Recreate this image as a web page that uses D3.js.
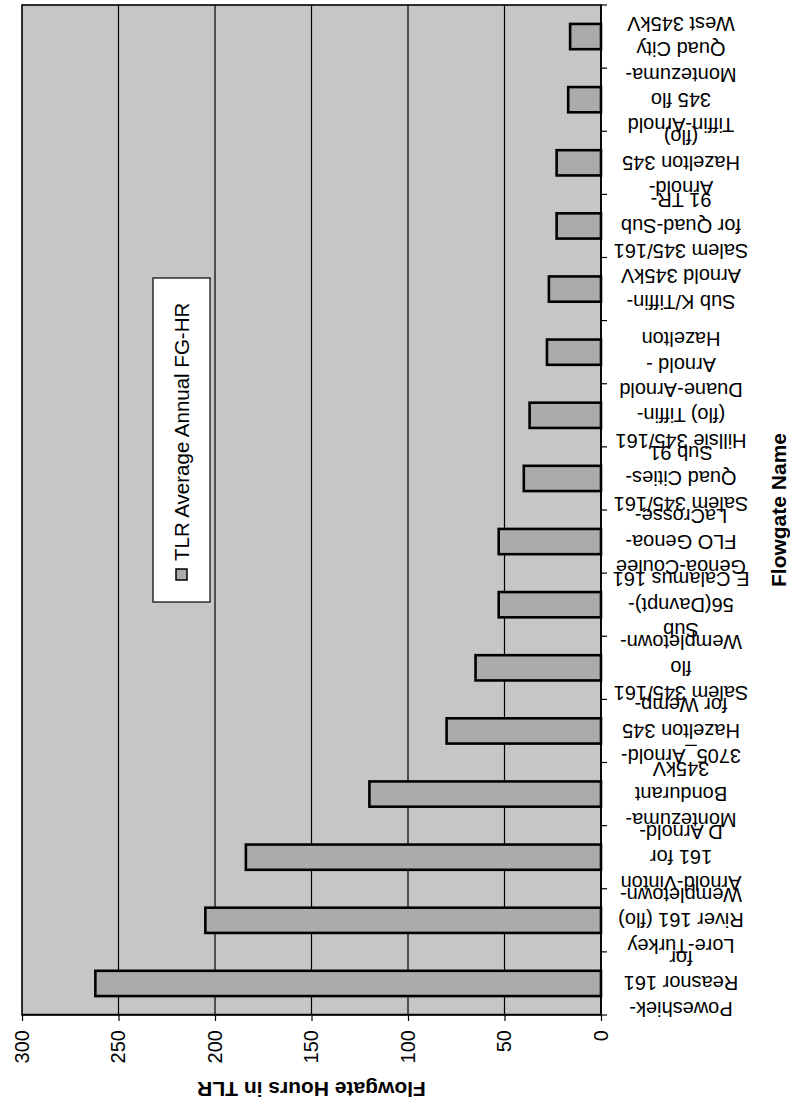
<!DOCTYPE html>
<html>
<head>
<meta charset="utf-8">
<script src="https://cdn.jsdelivr.net/npm/d3@7"></script>
<style>
  html, body { margin: 0; padding: 0; background: #ffffff; }
  svg { display: block; }
  text { font-family: Arial, "Liberation Sans", sans-serif; fill: #000; }
</style>
</head>
<body>
<svg id="chart" width="790" height="1104"></svg>
<script>
// Flowgate names, wrapped into the lines shown under each bar
const flowgateLabels = [
  ["Poweshiek-", "Reasnor 161", "for"],
  ["Lore-Turkey", "River 161 (flo)", "Wempletown-"],
  ["Arnold-Vinton", "161 for", "D Arnold-"],
  ["Montezuma-", "Bondurant", "345kV"],
  ["3705_Arnold-", "Hazelton 345", "for Wemp-"],
  ["Salem 345/161", "flo", "Wempletown-"],
  ["Sub", "56(Davnpt)-", "E Calamus 161"],
  ["Genoa-Coulee", "FLO Genoa-", "LaCrosse-"],
  ["Salem 345/161", "Quad Cities-", "Sub 91"],
  ["Hillsie 345/161", "(flo) Tiffin-", "Duane-Arnold"],
  ["Arnold -", "Hazelton"],
  ["Sub K/Tiffin-", "Arnold 345kV"],
  ["Salem 345/161", "for Quad-Sub", "91 TR-"],
  ["Arnold-", "Hazelton 345", "(flo)"],
  ["Tiffin-Arnold", "345 flo", ""],
  ["Montezuma-", "Quad City", "West 345kV", ""]
];

// Average annual flowgate hours in TLR
const tlrHours = [262, 205, 184, 120, 80, 65, 53, 53, 40, 37, 28, 27, 23, 23, 17, 16];

const hourTicks = [0, 50, 100, 150, 200, 250, 300];
const seriesName = "TLR Average Annual FG-HR";
const valueTitle = "Flowgate Hours in TLR";
const categoryTitle = "Flowgate Name";

// The chart is laid out landscape (W x H) and turned a quarter turn onto the portrait page
const W = 1104, H = 790;
const svg = d3.select("#chart");
const g = svg.append("g").attr("transform", `translate(0,${W}) rotate(-90)`);

const plotLeft = 89, plotRight = 1099, plotTop = 22, plotBottom = 601;
const ids = d3.range(flowgateLabels.length);

const slot = d3.scaleBand().domain(ids).range([plotLeft, plotRight]).padding(0);
const barFrac = 0.4;
const y = d3.scaleLinear().domain([0, 300]).range([plotBottom, plotTop]);

const plotFill = "#c6c6c6";
const barFill = "#ababab";

// plot area
g.append("rect")
  .attr("x", plotLeft).attr("y", plotTop)
  .attr("width", plotRight - plotLeft).attr("height", plotBottom - plotTop)
  .attr("fill", plotFill);

// gridlines
g.append("g").selectAll("line")
  .data(hourTicks.filter(v => v > 0 && v < 300))
  .join("line")
  .attr("x1", plotLeft).attr("x2", plotRight)
  .attr("y1", d => y(d)).attr("y2", d => y(d))
  .attr("stroke", "#000").attr("stroke-width", 1.2);

// bars
g.append("g").selectAll("rect")
  .data(tlrHours)
  .join("rect")
  .attr("x", (d, i) => slot(i) + slot.bandwidth() * (1 - barFrac) / 2)
  .attr("width", slot.bandwidth() * barFrac)
  .attr("y", d => y(d))
  .attr("height", d => y(0) - y(d))
  .attr("fill", barFill)
  .attr("stroke", "#000")
  .attr("stroke-width", 2.6);

// plot border
g.append("rect")
  .attr("x", plotLeft).attr("y", plotTop)
  .attr("width", plotRight - plotLeft).attr("height", plotBottom - plotTop)
  .attr("fill", "none").attr("stroke", "#000").attr("stroke-width", 1.6);

// value axis
const valueAxis = g.append("g")
  .attr("transform", `translate(${plotLeft},0)`)
  .call(d3.axisLeft(y).tickValues(hourTicks).tickSize(6).tickPadding(9).tickSizeOuter(0));
valueAxis.select(".domain").attr("stroke", "#000").attr("stroke-width", 1.6);
valueAxis.selectAll(".tick line").attr("stroke", "#000").attr("stroke-width", 1.2);
valueAxis.selectAll(".tick text")
  .attr("font-size", 20).attr("font-family", "Arial, 'Liberation Sans', sans-serif").attr("fill", "#000");

// category axis line and ticks between categories
const catAxis = g.append("g");
catAxis.append("line")
  .attr("x1", plotLeft).attr("x2", plotRight)
  .attr("y1", plotBottom).attr("y2", plotBottom)
  .attr("stroke", "#000").attr("stroke-width", 1.6);
const bounds = ids.map(i => slot(i)).concat([slot.range()[1]]);
catAxis.selectAll("line.tick")
  .data(bounds)
  .join("line")
  .attr("class", "tick")
  .attr("x1", d => d).attr("x2", d => d)
  .attr("y1", plotBottom).attr("y2", plotBottom + 6)
  .attr("stroke", "#000").attr("stroke-width", 1.2);

// category labels, written upward and centred under each bar
const lineStep = 25.5;
const labelMid = 681;
const labelGroups = g.append("g").selectAll("g")
  .data(flowgateLabels)
  .join("g")
  .attr("transform", (d, i) => `translate(${slot(i) + slot.bandwidth() / 2},${labelMid}) rotate(-90)`);
labelGroups.each(function(lines) {
  const t = d3.select(this).append("text")
    .attr("text-anchor", "middle")
    .attr("font-size", 20);
  lines.forEach((ln, j) => {
    t.append("tspan")
      .attr("x", 0)
      .attr("y", (j - (lines.length - 1) / 2) * lineStep + 7)
      .text(ln);
  });
});

// axis titles
g.append("text")
  .attr("x", (plotLeft + plotRight) / 2)
  .attr("y", 786)
  .attr("text-anchor", "middle")
  .attr("font-size", 21)
  .attr("font-weight", "bold")
  .text(categoryTitle);

g.append("text")
  .attr("transform", `translate(22,${(plotTop + plotBottom) / 2}) rotate(-90)`)
  .attr("text-anchor", "middle")
  .attr("font-size", 21)
  .attr("font-weight", "bold")
  .text(valueTitle);

// legend
const legend = g.append("g").attr("transform", "translate(502,153)");
legend.append("rect")
  .attr("width", 324).attr("height", 57)
  .attr("fill", "#ffffff").attr("stroke", "#000").attr("stroke-width", 1.2);
legend.append("rect")
  .attr("x", 22).attr("y", 23).attr("width", 11).attr("height", 11)
  .attr("fill", barFill).attr("stroke", "#000").attr("stroke-width", 1.5);
legend.append("text")
  .attr("x", 41).attr("y", 36)
  .attr("font-size", 20.5)
  .text(seriesName);
</script>
</body>
</html>
